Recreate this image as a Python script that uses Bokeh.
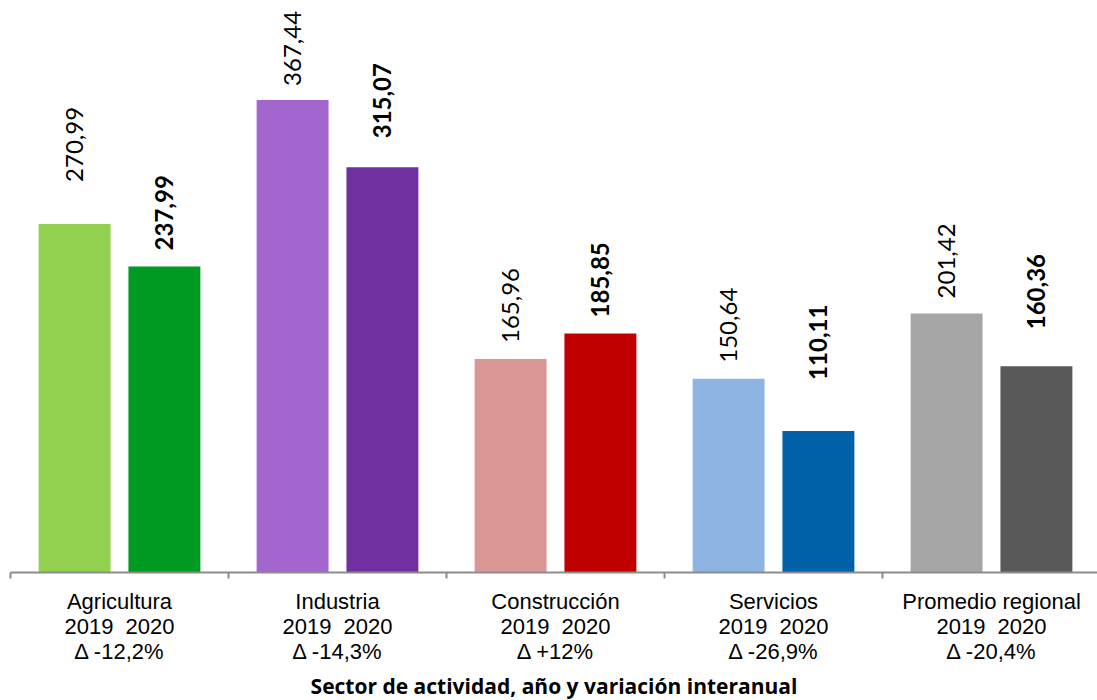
import math
from bokeh.plotting import figure
from bokeh.models import ColumnDataSource, Range1d, FixedTicker
from bokeh.core.properties import value
from bokeh.embed import file_html
from bokeh.resources import INLINE

# ---- data ----
sectors = ["Agricultura", "Industria", "Construcción", "Servicios", "Promedio regional"]
values_2019 = [270.99, 367.44, 165.96, 150.64, 201.42]
values_2020 = [237.99, 315.07, 185.85, 110.11, 160.36]
labels_2019 = ["270,99", "367,44", "165,96", "150,64", "201,42"]
labels_2020 = ["237,99", "315,07", "185,85", "110,11", "160,36"]
variations = ["Δ -12,2%", "Δ -14,3%", "Δ +12%", "Δ -26,9%", "Δ -20,4%"]
years = ["2019", "2020"]

# ---- styles ----
colors_2019 = ["#92D050", "#A366CF", "#DA9694", "#8EB4E3", "#A6A6A6"]
colors_2020 = ["#009A22", "#7030A0", "#C00000", "#0060A8", "#595959"]
gap_2019 = [42, 14, 16, 16, 15]   # px between bar top and label (as placed in reference)
gap_2020 = [16, 29, 16, 51, 37]

n = len(sectors)
centers = [i + 0.5 for i in range(n)]
off = 0.206
bw = 0.33

p = figure(frame_width=1087, frame_height=564,
           x_range=Range1d(0, 1087 / 218), y_range=Range1d(0, 438.5),
           output_backend="svg", toolbar_location=None,
           min_border_left=10, min_border_right=0, min_border_top=8,
           min_border_bottom=0)
p.outline_line_color = None
p.xgrid.visible = False
p.ygrid.visible = False
p.yaxis.visible = False

src19 = ColumnDataSource(dict(x=[c - off for c in centers], top=values_2019,
                              color=colors_2019, label=labels_2019,
                              yo=[-g for g in gap_2019]))
src20 = ColumnDataSource(dict(x=[c + off for c in centers], top=values_2020,
                              color=colors_2020, label=labels_2020,
                              yo=[-g for g in gap_2020]))

for src, weight in ((src19, "normal"), (src20, "bold")):
    p.vbar(x="x", top="top", bottom=0, width=bw, color="color",
           line_color=None, source=src)
    p.text(x="x", y="top", text="label", source=src, angle=math.pi / 2,
           text_align="left", text_baseline="middle", y_offset="yo",
           text_font=value("Lato"), text_font_size="24px",
           text_font_style=weight, text_color="#000000")

ax = p.xaxis[0]
ax.ticker = FixedTicker(ticks=centers, minor_ticks=list(range(n + 1)))
ax.major_label_overrides = {
    c: f"{s}\n{years[0]}\u00a0\u00a0{years[1]}\n{v}"
    for c, s, v in zip(centers, sectors, variations)
}
ax.major_tick_line_color = None
ax.major_tick_out = 0
ax.major_tick_in = 0
ax.minor_tick_out = 6
ax.minor_tick_in = 0
ax.minor_tick_line_color = "#8C8C8C"
ax.minor_tick_line_width = 2
ax.axis_line_color = "#8C8C8C"
ax.axis_line_width = 2
ax.major_label_standoff = 10
ax.major_label_text_font = "Liberation Sans"
ax.major_label_text_font_size = "22px"
ax.major_label_text_color = "#000000"
ax.major_label_text_line_height = 1.0
ax.axis_label = "Sector de actividad, año y variación interanual"
ax.axis_label_text_font = "Open Sans"
ax.axis_label_text_font_style = "bold"
ax.axis_label_text_font_size = "21px"
ax.axis_label_text_color = "#000000"
ax.axis_label_standoff = 5

open("out.html", "w").write(file_html(p, INLINE))
